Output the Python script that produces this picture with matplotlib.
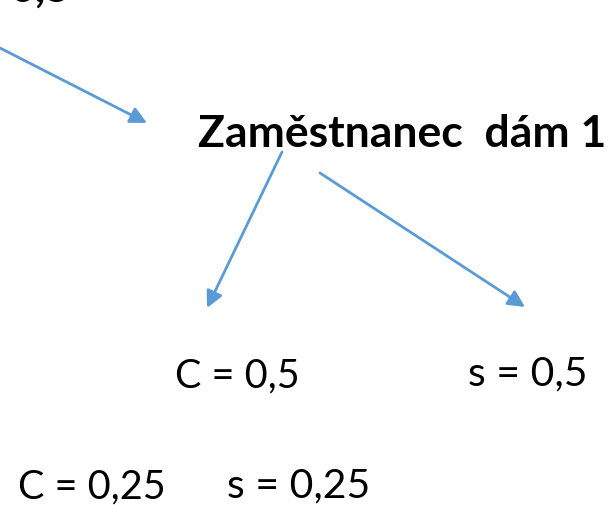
import matplotlib
matplotlib.use('Agg')
import matplotlib.pyplot as plt

W, H = 612, 505
blue = '#5B9BD5'
font = 'Lato'

# text labels: (text, x, baseline y, size, weight)
labels = ['0,5', 'Zaměstnanec  dám 1', 'C = 0,5', 's = 0,5', 'C = 0,25', 's = 0,25']
label_x = [72, 198, 175, 468, 18, 227]
label_y = [2, 147, 387, 385, 498, 497]
label_size = [32, 32, 28.5, 29.5, 28.5, 29.5]
label_bold = [True, True, False, False, False, False]
label_ha = ['right', 'left', 'left', 'left', 'left', 'left']

# arrows: start -> tip
arrow_from = [(0, 48), (282, 152), (320, 173)]
arrow_to = [(147, 123), (207, 308), (525, 307)]

fig = plt.figure(figsize=(W / 100, H / 100), dpi=100)
ax = fig.add_axes([0, 0, 1, 1])
ax.set_xlim(0, W)
ax.set_ylim(H, 0)
ax.axis('off')

for t, x, y, s, b, ha in zip(labels, label_x, label_y, label_size, label_bold, label_ha):
    ax.text(x, y, t, fontsize=s, fontweight='bold' if b else 'normal',
            family=[font, 'DejaVu Sans'], ha=ha, va='baseline', color='black')

for a, b in zip(arrow_from, arrow_to):
    ax.annotate('', xy=b, xytext=a,
                arrowprops=dict(arrowstyle='-|>,head_length=1.0,head_width=0.5',
                                color=blue, lw=2.0, shrinkA=0, shrinkB=0))

fig.savefig('out.png', dpi=100)
